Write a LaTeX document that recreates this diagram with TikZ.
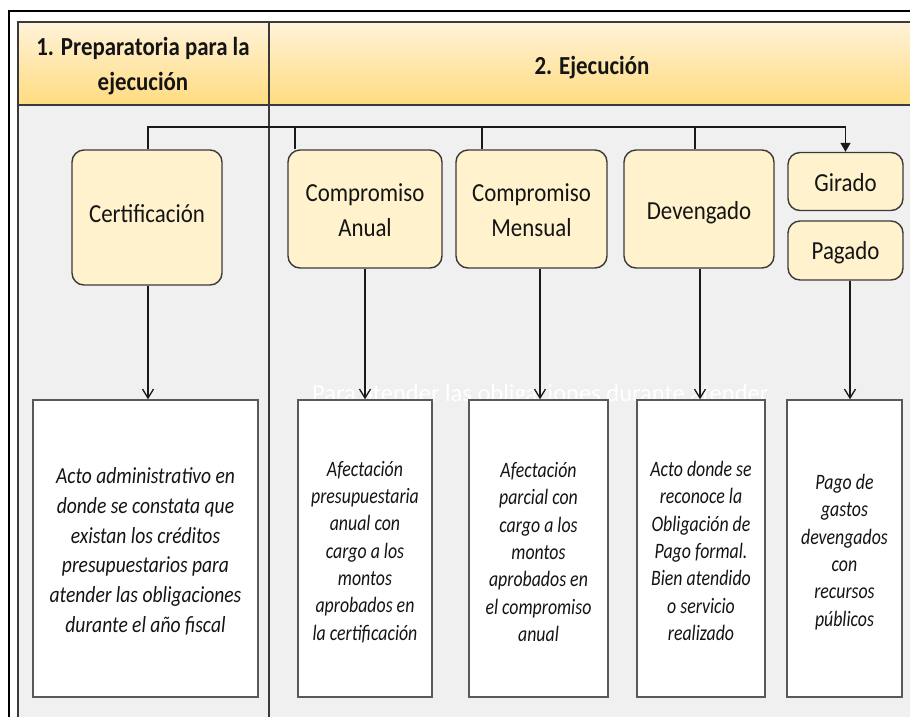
\documentclass[tikz,border=0pt]{standalone}
\usepackage{fontspec}
\setmainfont{Carlito}
\newfontfamily\condfont[FakeStretch=0.88]{Carlito}
\newfontfamily\descfont[FakeStretch=0.85]{Carlito}
\newfontfamily\narrowfont[FakeStretch=0.81]{Carlito}
\usetikzlibrary{arrows.meta}
\definecolor{bodygray}{HTML}{F0F0F0}
\definecolor{hdrtop}{HTML}{FFF2D9}
\definecolor{hdrbot}{HTML}{FFDC80}
\definecolor{boxfill}{HTML}{FFF2CC}
\definecolor{edge}{HTML}{3A3A3A}
\definecolor{txt}{HTML}{141414}
\begin{document}
\begin{tikzpicture}[x=1pt,y=-1pt,
  stage/.style={draw=edge, line width=1.4pt, fill=boxfill, rounded corners=12pt, inner sep=0pt},
  stagetext/.style={align=center, font=\condfont\fontsize{26}{35}\selectfont, text=txt, inner sep=0pt},
  desc/.style={draw=black!65, line width=1.4pt, fill=white, inner sep=0pt, minimum height=297pt},
  desctext/.style={align=center, font=\narrowfont\fontsize{22}{27.3}\selectfont\itshape, text=txt, inner sep=0pt},
  desctextbig/.style={desctext, font=\descfont\fontsize{23}{29.7}\selectfont\itshape},
  hdr/.style={align=center, font=\condfont\fontsize{26}{35}\selectfont\bfseries, text=txt},
  link/.style={draw=black!90, line width=1.3pt},
  down/.style={link, -{Straight Barb[length=9pt,width=11pt,line width=1.3pt]}},
  topdown/.style={link, -{Triangle[length=9pt,width=10pt]}},
  frame/.style={draw=black, line width=2pt},
  grid/.style={draw=edge, line width=1.3pt}]
\useasboundingbox (0,0) rectangle (910,716);
\clip (0,0) rectangle (910,716);
\fill[white] (0,0) rectangle (910,716);
% body and header
\fill[bodygray] (18,105) rectangle (930,730);
\shade[top color=hdrtop, bottom color=hdrbot] (18,22) rectangle (930,105);
\draw[frame] (9,730) -- (9,11) -- (930,11);
\draw[grid] (18,730) -- (18,22) -- (930,22);
\draw[grid] (18,105) -- (930,105);
\draw[grid] (269,22) -- (269,730);
\node[hdr] (h1) at (143,66) {1. Preparatoria para la\\ejecución};
\node[hdr] (h2) at (592,67.5) {2. Ejecución};
% watermark
\node[anchor=base west, text=white, font=\fontsize{24.5}{28}\selectfont, inner sep=0pt] (wm) at (312,401) {Para atender las obligaciones durante atender};
% stage boxes
\node[stage, minimum width=150pt, minimum height=135pt] (cert) at (147,217.5) {};
\node[stage, minimum width=154pt, minimum height=118pt] (ca) at (365,209) {};
\node[stage, minimum width=151pt, minimum height=118pt] (cm) at (531.5,209) {};
\node[stage, minimum width=150pt, minimum height=118pt] (dev) at (699,209) {};
\node[stage, minimum width=115pt, minimum height=58pt] (gir) at (845.5,181.5) {};
\node[stage, minimum width=115pt, minimum height=59pt] (pag) at (845.5,250.5) {};
\node[stagetext] (certt) at (147,213.5) {Certificación};
\node[stagetext] (cat) at (365,210) {Compromiso\\Anual};
\node[stagetext] (cmt) at (531.5,210) {Compromiso\\Mensual};
\node[stagetext] (devt) at (699,213) {Devengado};
\node[stagetext] (girt) at (845.5,182.5) {Girado};
\node[stagetext] (pagt) at (845.5,252.5) {Pagado};
% description boxes
\node[desc, minimum width=225pt] (d1) at (145.5,548.5) {};
\node[desc, minimum width=134pt] (d2) at (365,548.5) {};
\node[desc, minimum width=139pt] (d3) at (538.5,548.5) {};
\node[desc, minimum width=128pt] (d4) at (701,548.5) {};
\node[desc, minimum width=115pt] (d5) at (844.5,548.5) {};
\node[desctextbig] (d1t) at (145.5,551.5) {Acto administrativo en\\donde se constata que\\existan los créditos\\presupuestarios para\\atender las obligaciones\\durante el año fiscal};
\node[desctext] (d2t) at (365,552) {Afectación\\presupuestaria\\anual con\\cargo a los\\montos\\aprobados en\\la certificación};
\node[desctext] (d3t) at (538.5,552) {Afectación\\parcial con\\cargo a los\\montos\\aprobados en\\el compromiso\\anual};
\node[desctext] (d4t) at (701,551) {Acto donde se\\reconoce la\\Obligación de\\Pago formal.\\Bien atendido\\o servicio\\realizado};
\node[desctext] (d5t) at (844.5,552) {Pago de\\gastos\\devengados\\con\\recursos\\públicos};
% top connector
\coordinate (j0) at (148,127);
\coordinate (b1) at (295,127);
\coordinate (b2) at (482,127);
\coordinate (b3) at (695,127);
\draw[topdown] (j0 |- cert.north) -- (j0) -- (j0 -| gir.north) -- (gir.north);
\draw[link] (b1) -- (b1 |- ca.north);
\draw[link] (b2) -- (b2 |- cm.north);
\draw[link] (b3) -- (b3 |- dev.north);
% down arrows
\coordinate (a1) at (148,0);
\coordinate (a2) at (365,0);
\coordinate (a3) at (540,0);
\coordinate (a4) at (700,0);
\coordinate (a5) at (850,0);
\draw[down] (a1 |- cert.south) -- (a1 |- d1.north);
\draw[down] (a2 |- ca.south) -- (a2 |- d2.north);
\draw[down] (a3 |- cm.south) -- (a3 |- d3.north);
\draw[down] (a4 |- dev.south) -- (a4 |- d4.north);
\draw[down] (a5 |- pag.south) -- (a5 |- d5.north);
\end{tikzpicture}
\end{document}
